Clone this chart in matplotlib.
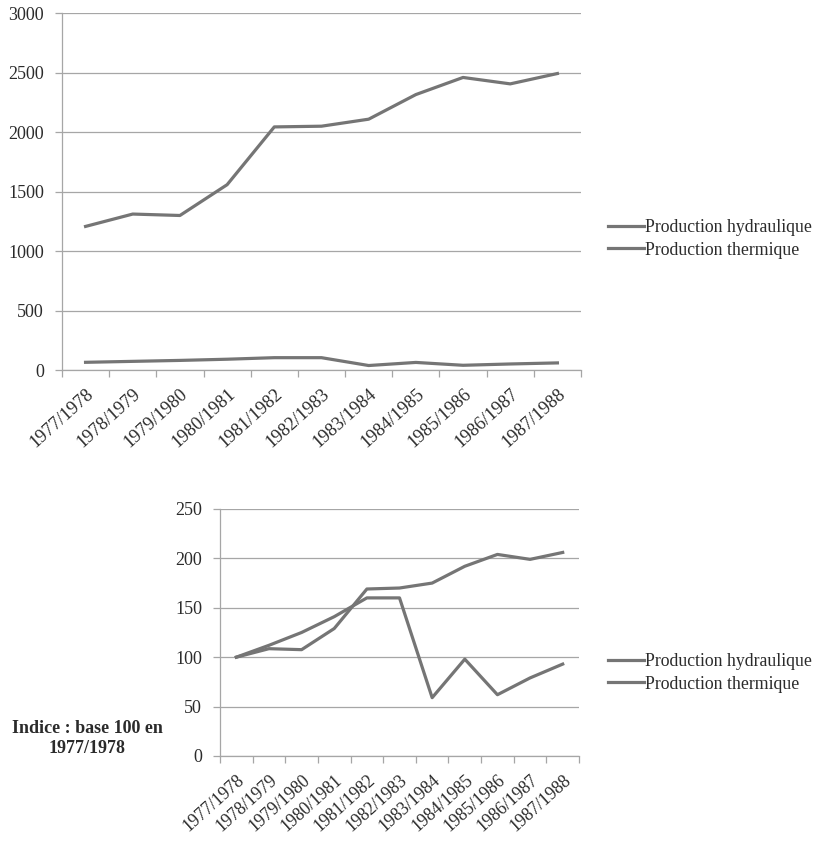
import matplotlib
matplotlib.use("Agg")
import matplotlib.pyplot as plt
import numpy as np

plt.rcParams['font.family'] = ['Liberation Serif', 'DejaVu Serif']

campagnes = ['1977/1978', '1978/1979', '1979/1980', '1980/1981', '1981/1982',
             '1982/1983', '1983/1984', '1984/1985', '1985/1986', '1986/1987',
             '1987/1988']

# production (GWh)
hydraulique = [1208, 1312, 1300, 1559, 2045, 2051, 2110, 2317, 2461, 2407, 2494]
thermique = [65, 73, 81, 91, 104, 104, 38, 64, 40, 51, 60]

# indice base 100 en 1977/1978
indice_hydraulique = [100, 108.6, 107.6, 129, 169, 170, 175, 192, 204, 199, 206]
indice_thermique = [100, 112, 125, 141, 160, 160, 59, 98, 62, 79, 93]

LINE = '#757575'
GRID = '#a6a6a6'
TXT = '#2b2b2b'


def style_axes(ax, ymax, ystep, xsize):
    x = np.arange(len(campagnes))
    ax.set_xlim(-0.5, len(campagnes) - 0.5)
    ax.set_ylim(0, ymax)
    ax.set_yticks(np.arange(0, ymax + 1, ystep))
    ax.set_xticks(x)
    ax.set_xticklabels(campagnes, rotation=42, ha='right', va='top',
                       rotation_mode='anchor', fontsize=xsize, color=TXT)
    ax.set_xticks(np.arange(-0.5, len(campagnes)), minor=True)
    ax.tick_params(axis='x', which='major', length=0, pad=11)
    ax.tick_params(axis='x', which='minor', length=5, color=GRID, width=0.9)
    ax.tick_params(axis='y', length=5, color=GRID, width=0.9, labelsize=13,
                   labelcolor=TXT, pad=8)
    ax.grid(axis='y', color=GRID, linewidth=0.9)
    ax.set_axisbelow(True)
    for s in ['top', 'right']:
        ax.spines[s].set_visible(False)
    for s in ['left', 'bottom']:
        ax.spines[s].set_color(GRID)
        ax.spines[s].set_linewidth(0.9)


def add_legend(ax, ycenter):
    ax.legend(loc='center left', bbox_to_anchor=(0.719, ycenter),
              bbox_transform=fig.transFigure, frameon=False, fontsize=12.8,
              handlelength=2.0, handletextpad=0.05, labelspacing=0.32,
              labelcolor=TXT)


fig = plt.figure(figsize=(8.24, 8.41), dpi=100)
x = np.arange(len(campagnes))

ax1 = fig.add_axes([0.0752, 0.560, 0.6299, 0.4241])
ax1.plot(x, hydraulique, color=LINE, lw=2.3, label='Production hydraulique')
ax1.plot(x, thermique, color=LINE, lw=2.3, label='Production thermique')
style_axes(ax1, 3000, 500, 13.2)
add_legend(ax1, 0.716)

ax2 = fig.add_axes([0.267, 0.1011, 0.4357, 0.2937])
ax2.plot(x, indice_hydraulique, color=LINE, lw=2.3, label='Production hydraulique')
ax2.plot(x, indice_thermique, color=LINE, lw=2.3, label='Production thermique')
style_axes(ax2, 250, 50, 12.8)
add_legend(ax2, 0.200)

fig.text(0.106, 0.122, 'Indice : base 100 en\n1977/1978', ha='center',
         va='center', fontsize=13, fontweight='bold', color=TXT,
         linespacing=1.2)

fig.savefig('out.png', dpi=100, facecolor='white')
